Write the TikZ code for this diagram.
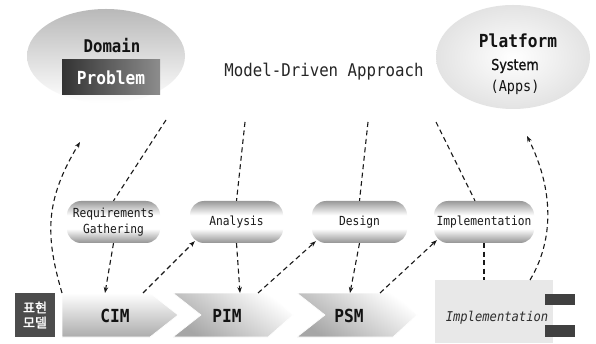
\documentclass[tikz,border=0pt]{standalone}
\usepackage{fontspec}
\usetikzlibrary{arrows.meta,calc}
\newfontfamily\gmono[FakeStretch=0.9]{DejaVu Sans Mono}
\newfontfamily\gsans[FakeStretch=0.85,FakeBold=1]{DejaVu Sans}
\newfontfamily\gobl[FakeStretch=0.9]{DejaVu Sans Mono Oblique}
\newfontfamily\krfont[FakeBold=2]{Noto Sans CJK KR}
\pgfdeclareverticalshading{pillshade}{100bp}{color(0bp)=(gray!85); color(25bp)=(gray!85); color(42bp)=(white); color(58bp)=(white); color(75bp)=(gray!80); color(100bp)=(gray!80)}
\tikzset{
  dline/.style={draw=gray!20!black, line width=1.1pt, dash pattern=on 5pt off 3.5pt},
  arr/.style={-{Stealth[length=6pt,width=4.5pt]}},
  pill/.style={rounded corners=14pt, minimum height=42pt, inner sep=0pt, align=center,
    shading=pillshade, font=\gmono\fontsize{12.5}{15}\selectfont, text=gray!20!black},
  chev/.style={draw=white, line width=0.6pt},
  chevtext/.style={font=\gmono\bfseries\fontsize{18}{20}\selectfont, text=gray!15!black},
}
\begin{document}
\begin{tikzpicture}[x=1pt,y=-1pt]
\useasboundingbox (0,0) rectangle (596,344);
\fill[white] (0,0) rectangle (596,344);
% Domain ellipse
\shade[top color=gray!55, bottom color=white] (106,56) ellipse [x radius=79, y radius=47];
\node[font=\gmono\bfseries\fontsize{17.5}{20}\selectfont, text=gray!15!black] (domain) at (112,46) {Domain};
\node[minimum width=98pt, minimum height=35pt, inner sep=0pt, left color=black!80, right color=black!45,
      font=\gmono\bfseries\fontsize{18}{20}\selectfont, text=white] (problem) at (111,77.5) {Problem};
% Platform ellipse
\shade[inner color=white, outer color=gray!22] (513,57) ellipse [x radius=77, y radius=52];
\node[font=\gmono\bfseries\fontsize{18}{20}\selectfont, text=gray!15!black] (platform) at (518,41) {Platform};
\node[font=\gsans\fontsize{15}{17}\selectfont, text=gray!15!black] (system) at (515,66) {System};
\node[font=\gmono\fontsize{15}{17}\selectfont, text=gray!15!black] (apps) at (515,87) {(Apps)};
% title
\node[font=\gmono\fontsize{17.5}{20}\selectfont, text=gray!30!black] (title) at (324,72) {Model-Driven Approach};
% pills
\node[pill, minimum width=93pt] (req) at (113.5,222) {Requirements\\[1pt]Gathering};
\node[pill, minimum width=93pt] (ana) at (236.5,222) {Analysis};
\node[pill, minimum width=95pt] (des) at (359.5,222) {Design};
\node[pill, minimum width=100pt] (imp) at (484,222) {Implementation};
% model label box
\node[fill=black!70, minimum width=40pt, minimum height=44pt, inner sep=0pt, align=center,
      font=\krfont\fontsize{13}{15}\selectfont, text=white] (kr) at (35,315) {표현\\모델};
% chevrons
\shade[chev, top color=white, bottom color=gray!65] (62,293) -- (150,293) -- (178,315) -- (150,337) -- (62,337) -- cycle;
\shade[chev, top color=white, bottom color=gray!70, shading angle=-35] (173,293) -- (268,293) -- (293,315) -- (268,337) -- (173,337) -- (201,315) -- cycle;
\shade[chev, top color=white, bottom color=gray!70, shading angle=-35] (297,293) -- (393,293) -- (417,315) -- (393,337) -- (297,337) -- (325,315) -- cycle;
\node[chevtext] (cim) at (115,316) {CIM};
\node[chevtext] (pim) at (227,316) {PIM};
\node[chevtext] (psm) at (349,316) {PSM};
% implementation box
\node[fill=gray!18, minimum width=118pt, minimum height=63pt, inner sep=0pt] (impbox) at (494,311.5) {};
\node[font=\gobl\fontsize{13.5}{16}\selectfont, text=gray!35!black] (imptext) at (497,318) {Implementation};
\fill[black!75] (545,294) rectangle (575,305);
\fill[black!75] (545,325) rectangle (575,337);
% coordinates
\coordinate (dA) at (166,120);
\coordinate (aA) at (245,122);
\coordinate (sA) at (368,122);
\coordinate (pA) at (436,122);
\coordinate (cimL) at (62,293);
\coordinate (cimT1) at (105,293);
\coordinate (cimT2) at (143,293);
\coordinate (pimT1) at (240,293);
\coordinate (pimT2) at (258,293);
\coordinate (psmT1) at (350,293);
\coordinate (psmT2) at (380,293);
\coordinate (domTip) at (80,142);
\coordinate (platTip) at (527,136);
\coordinate (impR) at (530,280);
% connectors
\draw[dline] (dA) -- (req.north);
\draw[dline] (aA) -- (ana.north);
\draw[dline] (sA) -- (des.north);
\draw[dline] (pA) -- ([xshift=-9pt]imp.north);
\draw[dline,arr] (req.south) -- (cimT1);
\draw[dline,arr] (cimT2) -- ([xshift=5pt,yshift=2pt]ana.south west);
\draw[dline,arr] (ana.south) -- (pimT1);
\draw[dline,arr] (pimT2) -- ([xshift=4pt,yshift=2pt]des.south west);
\draw[dline,arr] (des.south) -- (psmT1);
\draw[dline,arr] (psmT2) -- ([xshift=3pt,yshift=3pt]imp.south west);
\draw[dline] (imp.south) -- (imp.south |- impbox.north);
\draw[dline,arr] (cimL) .. controls (45,235) and (45,200) .. (domTip);
\draw[dline,arr] (impR) .. controls (554,240) and (554,190) .. (platTip);
\end{tikzpicture}
\end{document}
